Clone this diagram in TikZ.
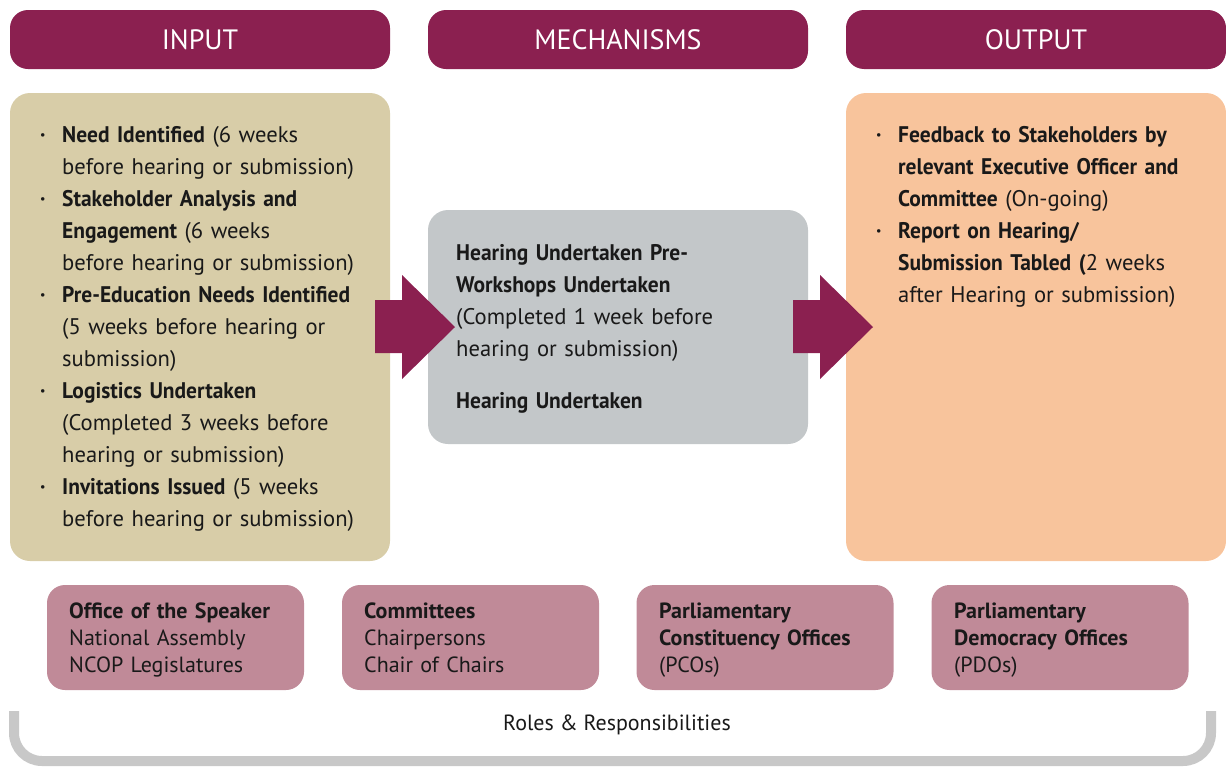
\documentclass[tikz,border=0pt]{standalone}
\usepackage{fontspec}
\setmainfont{PT Sans}[BoldFeatures={FakeStretch=0.95}]
\newfontfamily\rolefont{PT Sans}
\definecolor{hdr}{RGB}{139,32,80}
\definecolor{inc}{RGB}{216,205,168}
\definecolor{mec}{RGB}{195,199,201}
\definecolor{outc}{RGB}{248,196,156}
\definecolor{role}{RGB}{192,138,152}
\definecolor{brk}{RGB}{200,200,200}
\definecolor{txt}{RGB}{25,25,25}
\newcommand{\bul}{\makebox[23pt][l]{\hspace{1pt}\textbf{·}}}
\newcommand{\cont}{\hspace*{23pt}}
\begin{document}
\begin{tikzpicture}[x=1pt,y=-1pt,
  hdrbox/.style={fill=hdr, rounded corners=18pt, minimum width=380pt, minimum height=59pt, inner sep=0pt, text=white, font=\fontsize{28}{32}\selectfont},
  bigbox/.style={rounded corners=20pt, minimum width=380pt, inner sep=0pt},
  rolebox/.style={fill=role, rounded corners=18pt, minimum width=257pt, minimum height=105pt, inner sep=0pt},
  bodytxt/.style={anchor=base west, inner sep=0pt, text width=345pt, align=left, text=txt, font=\fontsize{22.6}{32}\selectfont},
  roletxt/.style={anchor=base west, inner sep=0pt, text width=240pt, align=left, text=txt, font=\rolefont\fontsize{22}{27}\selectfont},
  blockarrow/.style={fill=hdr}
]
\useasboundingbox (0,0) rectangle (1226,766);
% headers
\node[hdrbox] (hin) at (200,39.5) {INPUT};
\node[hdrbox] (hmec) at (618,39.5) {MECHANISMS};
\node[hdrbox] (hout) at (1036,39.5) {OUTPUT};
% main boxes
\node[bigbox, fill=inc, minimum height=468pt] (inbox) at (200,327) {};
\node[bigbox, fill=mec, minimum height=234pt] (mecbox) at (618,327) {};
\node[bigbox, fill=outc, minimum height=468pt] (outbox) at (1036,327) {};
% block arrows
\fill[blockarrow] (375,300) -- (402,300) -- (402,275) -- (455,327) -- (402,379) -- (402,353) -- (375,353) -- cycle;
\fill[blockarrow] (793,300) -- (820,300) -- (820,275) -- (873,327) -- (820,379) -- (820,353) -- (793,353) -- cycle;
% input text
\node[bodytxt] (intext) at (39,142) {%
\bul\textbf{Need Identified} (6 weeks\\\cont before hearing or submission)\\
\bul\textbf{Stakeholder Analysis and}\\\cont\textbf{Engagement} (6 weeks\\\cont before hearing or submission)\\
\bul\textbf{Pre-Education Needs Identified}\\\cont(5 weeks before hearing or\\\cont submission)\\
\bul\textbf{Logistics Undertaken}\\\cont(Completed 3 weeks before\\\cont hearing or submission)\\
\bul\textbf{Invitations Issued} (5 weeks\\\cont before hearing or submission)};
% mechanism text
\node[bodytxt] (mectext) at (456,260) {%
\textbf{Hearing Undertaken Pre-}\\\textbf{Workshops Undertaken}\\(Completed 1 week before\\hearing or submission)\\[20pt]\textbf{Hearing Undertaken}};
% output text
\node[bodytxt] (outtext) at (875,142) {%
\bul\textbf{Feedback to Stakeholders by}\\\cont\textbf{relevant Executive Officer and}\\\cont\textbf{Committee} (On-going)\\
\bul\textbf{Report on Hearing/}\\\cont\textbf{Submission Tabled (}2 weeks\\\cont after Hearing or submission)};
% role boxes
\node[rolebox] (r1) at (175.5,637.5) {};
\node[rolebox] (r2) at (470.5,637.5) {};
\node[rolebox] (r3) at (765,637.5) {};
\node[rolebox] (r4) at (1060,637.5) {};
\node[roletxt] (r1t) at (69,618) {\textbf{Office of the Speaker}\\National Assembly\\NCOP Legislatures};
\node[roletxt] (r2t) at (364,618) {\textbf{Committees}\\Chairpersons\\Chair of Chairs};
\node[roletxt] (r3t) at (659,618) {\textbf{Parliamentary}\\\textbf{Constituency Offices}\\(PCOs)};
\node[roletxt] (r4t) at (954,618) {\textbf{Parliamentary}\\\textbf{Democracy Offices}\\(PDOs)};
% bracket
\draw[brk, line width=10pt, rounded corners=28pt] (14,711) -- (14,761) -- (1211,761) -- (1211,711);
\node[anchor=base, inner sep=0pt, text=txt, font=\fontsize{22}{26}\selectfont] (roles) at (617,730) {Roles \& Responsibilities};
\end{tikzpicture}
\end{document}
